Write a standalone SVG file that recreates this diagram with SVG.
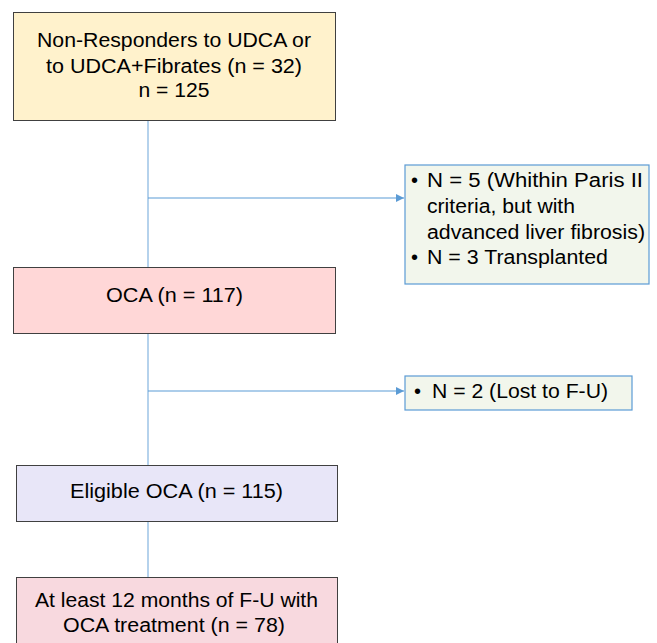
<svg xmlns="http://www.w3.org/2000/svg" width="657" height="643" viewBox="0 0 657 643">
<defs>
<marker id="ah" viewBox="0 0 10 10" refX="10" refY="5" markerWidth="8" markerHeight="8" markerUnits="userSpaceOnUse" orient="auto">
<path d="M0,0 L10,5 L0,10 z" fill="#5B9BD5"/>
</marker>
</defs>
<style>
text{font-family:"Liberation Sans",Arial,sans-serif;font-size:20px;fill:#000}
.c{text-anchor:middle}
.box{stroke:#404040;stroke-width:1}
.side{fill:#F2F6EC;stroke:#5B9BD5;stroke-width:1.2}
.v{stroke:#9DC3E6;stroke-width:1.5;fill:none}
.h{stroke:#5B9BD5;stroke-width:1.2;fill:none}
</style>
<rect width="657" height="643" fill="#fff"/>
<g id="connectors">
<line class="v" x1="148" y1="120" x2="148" y2="267"/>
<line class="v" x1="148" y1="333" x2="148" y2="465"/>
<line class="v" x1="148" y1="521" x2="148" y2="577"/>
<line class="h" x1="148" y1="198" x2="404" y2="198" marker-end="url(#ah)"/>
<line class="h" x1="148" y1="391" x2="404" y2="391" marker-end="url(#ah)"/>
</g>
<g id="n1">
<rect class="box" x="13.5" y="12.5" width="322" height="108" fill="#FFF2CC"/>
<text class="c" x="174" y="46.5" textLength="274" lengthAdjust="spacingAndGlyphs">Non-Responders to UDCA or</text>
<text class="c" x="174" y="72.5" textLength="256" lengthAdjust="spacingAndGlyphs">to UDCA+Fibrates (n = 32)</text>
<text class="c" x="174" y="97" textLength="71" lengthAdjust="spacingAndGlyphs">n = 125</text>
</g>
<g id="n2">
<rect class="side" x="405" y="165" width="244" height="119"/>
<text x="411" y="187">•</text>
<text x="427" y="187" textLength="216" lengthAdjust="spacingAndGlyphs">N = 5 (Whithin Paris II</text>
<text x="427" y="213" textLength="148" lengthAdjust="spacingAndGlyphs">criteria, but with</text>
<text x="427" y="239" textLength="218" lengthAdjust="spacingAndGlyphs">advanced liver fibrosis)</text>
<text x="411" y="264">•</text>
<text x="427" y="264" textLength="181" lengthAdjust="spacingAndGlyphs">N = 3 Transplanted</text>
</g>
<g id="n3">
<rect class="box" x="13.5" y="267.5" width="322" height="66" fill="#FFD7D7"/>
<text class="c" x="174.5" y="302" textLength="137" lengthAdjust="spacingAndGlyphs">OCA (n = 117)</text>
</g>
<g id="n4">
<rect class="side" x="405" y="376" width="227" height="34"/>
<text x="414" y="398">•</text>
<text x="432" y="398" textLength="176" lengthAdjust="spacingAndGlyphs">N = 2 (Lost to F-U)</text>
</g>
<g id="n5">
<rect class="box" x="16.5" y="465.5" width="321" height="56" fill="#E8E6F8"/>
<text class="c" x="176.5" y="498" textLength="213" lengthAdjust="spacingAndGlyphs">Eligible OCA (n = 115)</text>
</g>
<g id="n6">
<rect class="box" x="16.5" y="577.5" width="321" height="70" fill="#F8D9DF"/>
<text class="c" x="176.5" y="607" textLength="283" lengthAdjust="spacingAndGlyphs">At least 12 months of F-U with</text>
<text class="c" x="174" y="632" textLength="222" lengthAdjust="spacingAndGlyphs">OCA treatment (n = 78)</text>
</g>
</svg>
